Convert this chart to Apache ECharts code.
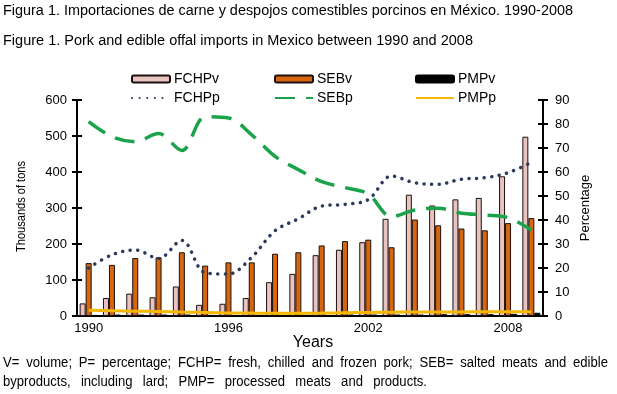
<!DOCTYPE html>
<html>
<head>
<meta charset="utf-8">
<script src="https://cdn.jsdelivr.net/npm/echarts@6/dist/echarts.min.js"></script>
<style>html,body{margin:0;padding:0;background:#fff;}#c{width:617px;height:394px;}</style>
</head>
<body>
<div id="c"></div>
<script>
var years = ['1990','1991','1992','1993','1994','1995','1996','1997','1998','1999','2000','2001','2002','2003','2004','2005','2006','2007','2008','2009'];
var fchpv = [35, 50, 62, 52, 82, 31, 34, 50, 94, 117, 169, 184, 205, 270, 337, 307, 324, 328, 388, 498];
var sebv  = [147, 142, 161, 163, 177, 140, 149, 149, 173, 177, 196, 208, 212, 191, 268, 252, 243, 238, 258, 272];
var pmpv  = [3, 4, 4, 4, 4, 3, 3, 3, 3, 3, 3, 4, 4, 4, 4, 5, 5, 5, 6, 9];
var fchpp = [20, 25.5, 27.5, 24, 31.5, 18, 17.5, 24.5, 35.5, 40.5, 45.8, 46.5, 48.5, 58.3, 55.5, 54.9, 57, 57.6, 59.7, 64];
var sebp  = [81, 74.7, 72.6, 76, 69, 83, 82.5, 75.5, 66.5, 61, 56, 53.5, 50.8, 41.4, 44.2, 44.9, 42.8, 42.1, 41, 35.8];
var pmpp  = [2.4, 2.2, 2.0, 1.9, 1.7, 1.5, 1.3, 1.2, 1.1, 1.1, 1.2, 1.4, 1.5, 1.6, 1.7, 1.7, 1.7, 1.8, 1.8, 1.8];
var leftTicks = [0, 600, 100];
var rightTicks = [0, 90, 10];

var chart = echarts.init(document.getElementById('c'), null, {renderer: 'canvas'});
var sans = '"Liberation Sans", Arial, sans-serif';
var ctx = document.createElement('canvas').getContext('2d');
function measure(t, font) { ctx.font = font; return ctx.measureText(t).width; }

// text squeezed horizontally to a given width (narrow-font look)
function squeezed(text, font, x, y, width, extra) {
  var w = measure(text, font);
  var o = {type: 'text', x: x, y: y, scaleX: width / w, style: {text: text, fill: '#000', font: font}};
  if (extra) { for (var k in extra) o[k] = extra[k]; }
  return o;
}
// justified line: words placed individually, squeezed by sx, spread to width
function justified(text, font, x, y, width, sx) {
  var words = text.split(' ');
  var ws = words.map(function (w) { return measure(w, font) * sx; });
  var total = ws.reduce(function (a, b) { return a + b; }, 0);
  var gap = (width - total) / (words.length - 1);
  var out = [], cx = x;
  for (var i = 0; i < words.length; i++) {
    out.push({type: 'text', x: cx, y: y, scaleX: sx, style: {text: words[i], fill: '#000', font: font}});
    cx += ws[i] + gap;
  }
  return out;
}

function lg(name, left, top, isLine) {
  var l = {show: true, data: [name], left: left, top: top, itemWidth: 38, itemHeight: 7, itemGap: 0, padding: 0,
          textStyle: {color: '#000', fontFamily: sans, fontSize: 14, padding: [0, 0, 0, -1]}, selectedMode: false};
  if (isLine) l.itemStyle = {opacity: 0};
  return l;
}

var titleFont = '14px ' + sans;
var noteFont = '14px ' + sans;
var note1 = 'V= volume; P= percentage; FCHP= fresh, chilled and frozen pork; SEB= salted meats and edible';
var note2 = 'byproducts, including lard; PMP= processed meats and products.';
var noteSx = 0.9 * 420 / measure(note2, noteFont);
var graphics = [
  squeezed('Figura 1. Importaciones de carne y despojos comestibles porcinos en México. 1990-2008', titleFont, 3, 4, 570),
  squeezed('Figure 1. Pork and edible offal imports in Mexico between 1990 and 2008', titleFont, 3, 34, 470),
  squeezed('Thousands of tons', '13px ' + sans, 15, 252, 91, {rotation: Math.PI / 2}),
  {type: 'text', x: 585, y: 208, rotation: Math.PI / 2, style: {text: 'Percentage', fill: '#000', font: '13px ' + sans, align: 'center', verticalAlign: 'middle'}},
  {type: 'text', x: 313, y: 343, style: {text: 'Years', fill: '#000', font: '16px ' + sans, align: 'center', verticalAlign: 'middle'}}
];
graphics = graphics.concat(
  justified(note1, noteFont, 3, 356, 605, noteSx),
  justified(note2, noteFont, 3, 375, 424, noteSx)
);

var option = {
  animation: false,
  backgroundColor: '#fff',
  grid: {left: 77, right: 74, top: 100, bottom: 78, containLabel: false},
  legend: [
    lg('FCHPv', 131, 72), lg('SEBv', 274, 72), lg('PMPv', 415, 72),
    lg('FCHPp', 131, 91, true), lg('SEBp', 274, 91, true), lg('PMPp', 415, 91, true)
  ],
  xAxis: [{
    type: 'category', data: years, boundaryGap: true,
    axisLine: {lineStyle: {color: '#000', width: 2}},
    axisTick: {interval: 5, length: 4, lineStyle: {color: '#000', width: 2}},
    axisLabel: {interval: 5, color: '#000', fontFamily: sans, fontSize: 13, margin: 6},
    splitLine: {show: false}
  }],
  yAxis: [{
    type: 'value', position: 'left', min: leftTicks[0], max: leftTicks[1], interval: leftTicks[2],
    axisLine: {show: true, lineStyle: {color: '#000', width: 2}},
    axisTick: {show: true, length: 5, lineStyle: {color: '#000', width: 2}},
    axisLabel: {color: '#000', fontFamily: sans, fontSize: 13, margin: 10},
    splitLine: {show: false}
  }, {
    type: 'value', position: 'right', min: rightTicks[0], max: rightTicks[1], interval: rightTicks[2],
    axisLine: {show: true, lineStyle: {color: '#000', width: 2}},
    axisTick: {show: true, length: 5, lineStyle: {color: '#000', width: 2}},
    axisLabel: {color: '#000', fontFamily: sans, fontSize: 13, margin: 12},
    splitLine: {show: false}
  }, {
    type: 'value', position: 'left', min: leftTicks[0], max: leftTicks[1], interval: leftTicks[2],
    axisLine: {show: false}, axisLabel: {show: false}, splitLine: {show: false},
    axisTick: {show: true, inside: true, length: 5, lineStyle: {color: '#000', width: 2}}
  }, {
    type: 'value', position: 'right', min: rightTicks[0], max: rightTicks[1], interval: rightTicks[2],
    axisLine: {show: false}, axisLabel: {show: false}, splitLine: {show: false},
    axisTick: {show: true, inside: true, length: 5, lineStyle: {color: '#000', width: 2}}
  }],
  series: [
    {name: 'FCHPv', type: 'bar', data: fchpv, barWidth: 6, barGap: '0%', yAxisIndex: 0,
     itemStyle: {color: '#E8C3BF', borderColor: '#1a1010', borderWidth: 1}},
    {name: 'SEBv', type: 'bar', data: sebv, barWidth: 6, barGap: '0%', yAxisIndex: 0,
     itemStyle: {color: '#D7660F', borderColor: '#1a1010', borderWidth: 1}},
    {name: 'PMPv', type: 'bar', data: pmpv, barWidth: 6, barGap: '0%', yAxisIndex: 0,
     itemStyle: {color: '#000', borderColor: '#000', borderWidth: 1}},
    {name: 'FCHPp', type: 'line', data: fchpp, yAxisIndex: 1, smooth: 0.35, symbol: 'none', z: 5,
     itemStyle: {color: '#2B3A5C'},
     lineStyle: {color: '#2B3A5C', width: 3.5, type: [0.1, 7.5], cap: 'round'}},
    {name: 'SEBp', type: 'line', data: sebp, yAxisIndex: 1, smooth: 0.35, symbol: 'none', z: 5,
     itemStyle: {color: '#1BA34C'},
     lineStyle: {color: '#1BA34C', width: 3.5, type: [20, 11]}},
    {name: 'PMPp', type: 'line', data: pmpp, yAxisIndex: 1, smooth: 0.35, symbol: 'none', z: 5,
     itemStyle: {color: '#F5B700'},
     lineStyle: {color: '#F5B700', width: 3}}
  ],
  graphic: graphics
};
chart.setOption(option);
</script>
</body>
</html>
